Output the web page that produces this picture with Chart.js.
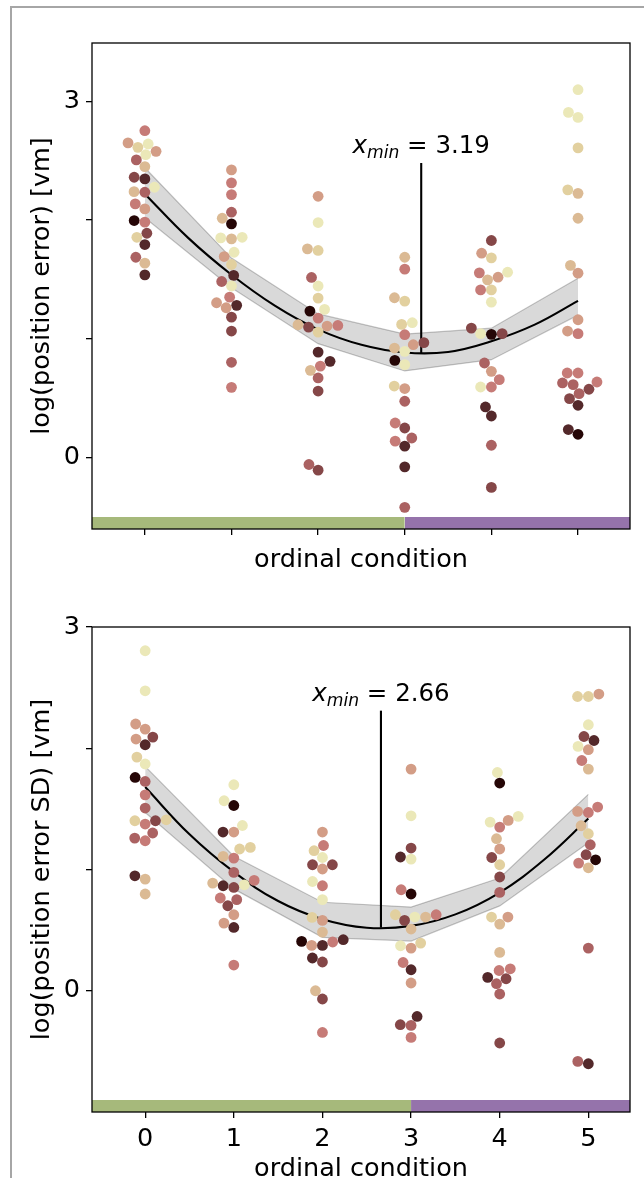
<!DOCTYPE html>
<html><head><meta charset="utf-8">
<script src="https://cdn.jsdelivr.net/npm/chart.js@4/dist/chart.umd.min.js"></script>
<style>
html,body{margin:0;padding:0;background:#fff;overflow:hidden;width:644px;height:1178px;position:relative;}
#frame{position:absolute;left:10px;top:6px;width:700px;height:1300px;border-top:2px solid #a6a6a6;border-left:2px solid #a6a6a6;}
.wrap{position:absolute;left:0;width:644px;height:600px;}
</style></head><body>
<div id="frame"></div>
<div class="wrap" style="top:0"><canvas id="c1" width="644" height="600"></canvas></div>
<div class="wrap" style="top:600px"><canvas id="c2" width="644" height="600"></canvas></div>
<script>
// ---------- data ----------
const categories = [0, 1, 2, 3, 4, 5];
const xTickLabels = ['0', '1', '2', '3', '4', '5'];
const yTickValues = [0, 1, 2, 3];
const yTickLabels = ['0', '', '', '3'];
const xAxisTitle = 'ordinal condition';
const yTitleTop = 'log(position error) [vm]';
const yTitleBottom = 'log(position error SD) [vm]';

// participant shade palette (light -> dark)
const shadePalette = ['#ebe8b8', '#e2d09f', '#dbba94', '#d39d86', '#c67b77', '#ab6262', '#854748', '#53282a', '#250606'];

// top panel: log(position error), per condition
const errValues = [
  [2.752,2.649,2.640,2.612,2.578,2.550,2.506,2.450,2.360,2.346,2.276,2.239,2.234,2.136,2.094,1.996,1.982,1.889,1.855,1.794,1.687,1.637,1.539],
  [2.422,2.313,2.214,2.066,2.015,1.968,1.855,1.850,1.842,1.729,1.693,1.626,1.534,1.483,1.445,1.351,1.304,1.282,1.262,1.183,1.066,0.803,0.592],
  [2.200,1.979,1.758,1.744,1.517,1.445,1.343,1.248,1.234,1.175,1.119,1.113,1.108,1.099,1.057,0.889,0.811,0.771,0.735,0.671,0.561,-0.057,-0.105],
  [1.687,1.587,1.346,1.318,1.136,1.122,1.035,0.968,0.951,0.923,0.895,0.819,0.783,0.603,0.582,0.475,0.292,0.250,0.166,0.139,0.097,-0.077,-0.418],
  [1.828,1.721,1.682,1.561,1.556,1.519,1.497,1.412,1.412,1.309,1.091,1.044,1.044,1.038,0.797,0.727,0.657,0.595,0.595,0.427,0.351,0.105,-0.250],
  [3.097,2.906,2.864,2.607,2.254,2.225,2.015,1.618,1.553,1.161,1.066,1.044,0.713,0.713,0.637,0.629,0.615,0.576,0.539,0.497,0.441,0.237,0.197]
];
const errShades = [
  [4,3,0,1,3,0,5,2,6,7,0,2,5,4,3,8,4,6,1,7,5,2,7],
  [3,4,4,5,2,8,0,0,2,0,3,1,7,5,0,4,3,7,3,6,6,5,4],
  [3,0,2,1,5,0,1,0,8,4,2,4,3,6,1,7,7,4,2,5,6,5,6],
  [2,4,2,1,0,1,4,6,3,2,0,8,0,1,3,5,4,6,5,4,7,7,5],
  [6,3,1,0,4,3,2,1,4,0,6,0,6,8,5,3,4,4,0,7,7,5,6],
  [0,0,0,1,1,2,2,2,3,3,3,4,4,4,4,5,5,6,5,6,7,7,8]
];
const errFitX = [0, 0.5, 1, 1.5, 2, 2.5, 3, 3.5, 4, 4.5, 5];
const errFitY = [2.22, 1.85, 1.54, 1.28, 1.08, 0.95, 0.885, 0.89, 0.98, 1.12, 1.32];
const errBandUpper = [2.44, 1.68, 1.21, 1.04, 1.09, 1.51];
const errBandLower = [2.02, 1.43, 0.96, 0.73, 0.825, 1.20];
const errXmin = 3.19, errXminCurve = 0.875, errXminTop = 2.48;

// bottom panel: log(position error SD), per condition
const sdValues = [
  [2.804,2.474,2.200,2.158,2.092,2.076,2.029,1.927,1.870,1.759,1.726,1.616,1.507,1.410,1.402,1.402,1.375,1.301,1.259,1.237,0.948,0.921,0.798],
  [1.699,1.567,1.528,1.363,1.309,1.309,1.182,1.169,1.108,1.094,0.976,0.910,0.888,0.874,0.866,0.852,0.765,0.751,0.701,0.627,0.558,0.522,0.212],
  [1.309,1.198,1.155,1.099,1.039,1.039,1.004,0.901,0.866,0.751,0.605,0.580,0.484,0.421,0.407,0.402,0.374,0.374,0.270,0.237,0.000,-0.068,-0.344],
  [1.828,1.443,1.177,1.103,1.086,0.833,0.798,0.627,0.627,0.608,0.608,0.580,0.509,0.393,0.371,0.352,0.233,0.173,0.064,-0.212,-0.280,-0.286,-0.385],
  [1.800,1.713,1.438,1.405,1.391,1.350,1.254,1.169,1.099,1.039,0.938,0.811,0.608,0.608,0.550,0.316,0.181,0.167,0.110,0.099,0.058,-0.027,-0.431],
  [2.447,2.427,2.427,2.194,2.097,2.064,2.015,1.988,1.899,1.828,1.515,1.479,1.470,1.361,1.295,1.204,1.122,1.080,1.053,1.014,0.352,-0.583,-0.602]
];
const sdShades = [
  [0,0,3,3,6,3,7,1,0,8,5,4,5,1,1,6,4,5,5,4,7,2,2],
  [0,0,8,0,3,7,1,1,2,4,5,4,2,0,7,6,4,5,6,3,3,7,4],
  [3,4,1,0,6,6,3,0,4,0,1,3,2,7,8,4,7,3,7,6,2,6,4],
  [3,0,6,7,0,4,8,1,4,0,2,6,2,1,0,3,4,7,3,7,6,5,4],
  [0,8,0,3,0,4,2,3,6,1,6,5,1,3,2,2,4,4,7,6,5,5,6],
  [3,1,1,0,6,7,0,3,4,2,4,3,4,2,1,5,6,8,4,2,5,5,7]
];
const sdFitX = [0, 0.5, 1, 1.5, 2, 2.5, 3, 3.5, 4, 4.5, 5];
const sdFitY = [1.68, 1.29, 0.98, 0.74, 0.59, 0.52, 0.535, 0.63, 0.81, 1.08, 1.42];
const sdBandUpper = [1.85, 1.11, 0.73, 0.69, 0.93, 1.62];
const sdBandLower = [1.47, 0.84, 0.44, 0.41, 0.70, 1.22];
const sdXmin = 2.66, sdXminCurve = 0.52, sdXminTop = 2.31;

// condition groups shown in the bottom strip
const groupSplit = 3;
const groupColors = ['#a6b97b', '#9573ab'];

// ---------- drawing ----------
Chart.defaults.font.family = '"DejaVu Sans", sans-serif';
Chart.defaults.color = '#000';
const FONT = 25.5;
const POINT_R = 5.4;

const boxPlugin = {
  id: 'axbox',
  afterDatasetsDraw(chart) {
    const a = chart.chartArea, ctx = chart.ctx;
    ctx.save();
    ctx.strokeStyle = '#000'; ctx.lineWidth = 1.3;
    ctx.strokeRect(a.left, a.top, a.right - a.left, a.bottom - a.top);
    ctx.restore();
  }
};
const xminPlugin = {
  id: 'xminLabel',
  afterDatasetsDraw(chart, args, o) {
    if (!o || o.value === undefined) return;
    const {ctx, scales: {x, y}} = chart;
    const px = x.getPixelForValue(o.value);
    const py = y.getPixelForValue(o.top) - o.gap;
    const s = o.size;
    const fi = `italic ${s}px "DejaVu Sans"`, fs = `italic ${s * 0.7}px "DejaVu Sans"`, fn = `${s}px "DejaVu Sans"`;
    ctx.save();
    ctx.fillStyle = '#000'; ctx.textBaseline = 'alphabetic'; ctx.textAlign = 'left';
    ctx.font = fi; const wx = ctx.measureText('x').width;
    ctx.font = fs; const wm = ctx.measureText('min').width;
    const rest = ' = ' + o.value.toFixed(2);
    ctx.font = fn; const wr = ctx.measureText(rest).width;
    let sx = px - (wx + wm + wr) / 2;
    ctx.font = fi; ctx.fillText('x', sx, py); sx += wx;
    ctx.font = fs; ctx.fillText('min', sx, py + s * 0.2); sx += wm;
    ctx.font = fn; ctx.fillText(rest, sx, py);
    ctx.restore();
  }
};

function swarm(cx, ys, d) {
  const n = ys.length;
  const order = [...Array(n).keys()].sort((a, b) => ys[b] - ys[a]);
  const placed = [], out = new Array(n);
  for (const i of order) {
    const y = ys[i];
    const nb = placed.filter(p => Math.abs(p.y - y) < d);
    const cands = [cx];
    for (const p of nb) {
      const dx = Math.sqrt(d * d - (p.y - y) ** 2);
      cands.push(p.x - dx, p.x + dx);
    }
    cands.sort((a, b) => Math.abs(a - cx) - Math.abs(b - cx));
    let chosen = cx;
    for (const c of cands) {
      if (nb.every(p => (p.x - c) ** 2 + (p.y - y) ** 2 >= d * d - 1e-6)) { chosen = c; break; }
    }
    placed.push({x: chosen, y});
    out[i] = chosen;
  }
  return out;
}

function makeChart(canvas, cfg) {
  const datasets = [];
  cfg.values.forEach((vals, ci) => {
    datasets.push({
      type: 'scatter', order: 0,
      data: vals.map(v => ({x: categories[ci], y: v})),
      pointRadius: POINT_R, pointHoverRadius: POINT_R, pointBorderWidth: 0,
      pointBackgroundColor: cfg.shades[ci].map(s => shadePalette[s])
    });
  });
  datasets.push({
    type: 'line', order: 1, data: cfg.fitX.map((x, i) => ({x, y: cfg.fitY[i]})),
    borderColor: '#000', borderWidth: 2.1, pointRadius: 0, tension: 0.4, fill: false
  });
  datasets.push({
    type: 'line', order: 1, data: [{x: cfg.xmin, y: cfg.xminCurve}, {x: cfg.xmin, y: cfg.xminTop}],
    borderColor: '#000', borderWidth: 2.1, pointRadius: 0, fill: false
  });
  datasets.push({
    type: 'line', order: 2, data: categories.map((x, i) => ({x, y: cfg.bandU[i]})),
    borderColor: 'rgba(0,0,0,0.22)', borderWidth: 1.2, pointRadius: 0, tension: 0,
    fill: '+1', backgroundColor: 'rgba(0,0,0,0.15)'
  });
  datasets.push({
    type: 'line', order: 2, data: categories.map((x, i) => ({x, y: cfg.bandL[i]})),
    borderColor: 'rgba(0,0,0,0.22)', borderWidth: 1.2, pointRadius: 0, tension: 0, fill: false
  });
  datasets.push({
    type: 'line', order: 3, data: [{x: cfg.xMin, y: cfg.barTop}, {x: groupSplit, y: cfg.barTop}],
    borderColor: 'rgba(0,0,0,0)', borderWidth: 0, pointRadius: 0, fill: 'start', backgroundColor: groupColors[0]
  });
  datasets.push({
    type: 'line', order: 3, data: [{x: groupSplit, y: cfg.barTop}, {x: cfg.xMax, y: cfg.barTop}],
    borderColor: 'rgba(0,0,0,0)', borderWidth: 0, pointRadius: 0, fill: 'start', backgroundColor: groupColors[1]
  });

  const chart = new Chart(canvas, {
    type: 'scatter',
    data: {datasets},
    plugins: [boxPlugin, xminPlugin],
    options: {
      responsive: false, animation: false, devicePixelRatio: 1, events: [],
      layout: {padding: {top: cfg.padTop, right: 14, left: 0, bottom: 0}},
      plugins: {
        legend: {display: false}, tooltip: {enabled: false},
        xminLabel: {value: cfg.xmin, top: cfg.xminTop, gap: 10, size: 24.5}
      },
      scales: {
        x: {
          type: 'linear', position: 'bottom', min: cfg.xMin, max: cfg.xMax,
          afterBuildTicks: s => { s.ticks = categories.map(v => ({value: v})); },
          afterFit: s => { s.height = cfg.xAxisH; },
          grid: {display: true, drawOnChartArea: false, drawTicks: true, tickLength: 6, color: '#000', lineWidth: 1.3},
          border: {display: false},
          ticks: {autoSkip: false, maxRotation: 0, padding: 6, color: '#000', font: {size: FONT},
                  callback: (v, i) => cfg.showXLabels ? xTickLabels[i] : ''},
          title: {display: true, text: xAxisTitle, color: '#000', font: {size: FONT}, padding: {top: 0, bottom: cfg.xTitlePad}}
        },
        y: {
          type: 'linear', position: 'left', min: cfg.yMin, max: cfg.yMax,
          afterBuildTicks: s => { s.ticks = yTickValues.map(v => ({value: v})); },
          afterFit: s => { s.width = 92; },
          grid: {display: true, drawOnChartArea: false, drawTicks: true, tickLength: 6, color: '#000', lineWidth: 1.3},
          border: {display: false},
          ticks: {autoSkip: false, padding: 6, color: '#000', font: {size: FONT},
                  callback: (v, i) => yTickLabels[i]},
          title: {display: true, text: cfg.yTitle, color: '#000', font: {size: FONT}, padding: {top: 27.5, bottom: 0}}
        }
      }
    }
  });

  // beeswarm placement (seaborn-like) in pixel space, then back to data units
  const xs = chart.scales.x, ys = chart.scales.y;
  cfg.values.forEach((vals, ci) => {
    const cx = xs.getPixelForValue(categories[ci]);
    const py = vals.map(v => ys.getPixelForValue(v));
    const px = swarm(cx, py, POINT_R * 2);
    chart.data.datasets[ci].data = vals.map((v, k) => ({x: xs.getValueForPixel(px[k]), y: v}));
  });
  chart.update('none');
  return chart;
}

makeChart(document.getElementById('c1'), {
  values: errValues, shades: errShades, fitX: errFitX, fitY: errFitY,
  bandU: errBandUpper, bandL: errBandLower,
  xmin: errXmin, xminCurve: errXminCurve, xminTop: errXminTop,
  xMin: -0.61, xMax: 5.6, yMin: -0.6, yMax: 3.49, barTop: -0.5,
  padTop: 43, xAxisH: 71, xTitlePad: 24.7, showXLabels: false, yTitle: yTitleTop
});
makeChart(document.getElementById('c2'), {
  values: sdValues, shades: sdShades, fitX: sdFitX, fitY: sdFitY,
  bandU: sdBandUpper, bandL: sdBandLower,
  xmin: sdXmin, xminCurve: sdXminCurve, xminTop: sdXminTop,
  xMin: -0.6, xMax: 5.47, yMin: -1, yMax: 3, barTop: -0.9,
  padTop: 27, xAxisH: 88, xTitlePad: 15.3, showXLabels: true, yTitle: yTitleBottom
});
</script>
</body></html>
